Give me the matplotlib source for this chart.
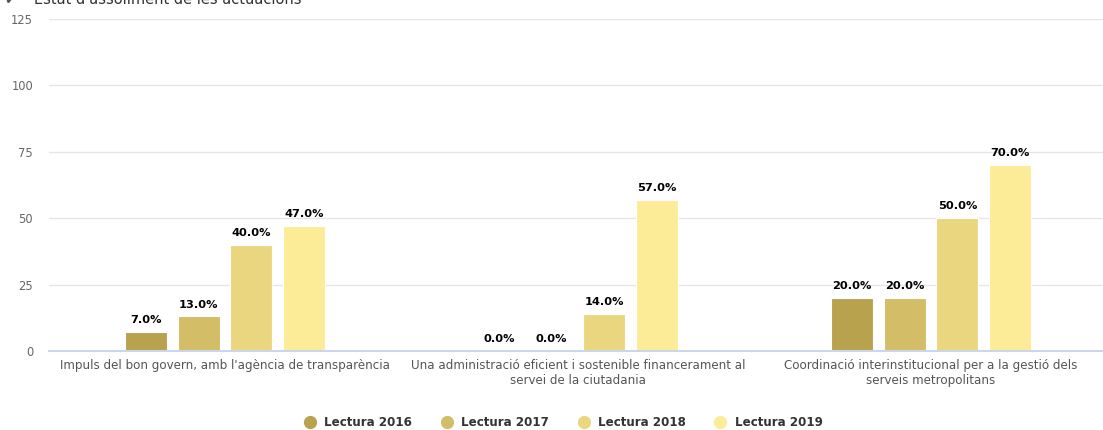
import matplotlib
matplotlib.use("Agg")
import matplotlib.pyplot as plt
from matplotlib.lines import Line2D
import numpy as np

categories = ["Impuls del bon govern, amb l'agència de transparència",
              "Una administració eficient i sostenible financerament al\nservei de la ciutadania",
              "Coordinació interinstitucional per a la gestió dels\nserveis metropolitans"]
series = ["Lectura 2016", "Lectura 2017", "Lectura 2018", "Lectura 2019"]
values = [[7.0, 0.0, 20.0],
          [13.0, 0.0, 20.0],
          [40.0, 14.0, 50.0],
          [47.0, 57.0, 70.0]]
colors = ["#B8A24E", "#D3BD66", "#EBD680", "#FDEC97"]
yticks = [0, 25, 50, 75, 100, 125]

plt.rcParams['font.family'] = ['DejaVu Sans']

fig = plt.figure(figsize=(11.03, 4.30), dpi=100)
# plot area runs a little past the right edge, like the original
ax = fig.add_axes([48.5/1103, 1-351/430, 1059/1103, 332/430])

x = np.arange(len(categories))
width = 0.119
step = 0.149
for i, (name, vals) in enumerate(zip(series, values)):
    pos = x + (i - 1.5) * step
    ax.bar(pos, vals, width=width, color=colors[i], edgecolor='white', linewidth=0.8, zorder=3)
    for px, v in zip(pos, vals):
        ax.annotate(f"{v:.1f}%", (px, v), xytext=(0, 5), textcoords='offset points',
                    ha='center', va='bottom', fontsize=8.2, fontweight='bold', color='black')

ax.set_xlim(-0.5, 2.5)
ax.set_ylim(0, 125)
ax.set_yticks(yticks)
ax.set_xticks(x)
ax.set_xticklabels(categories, fontsize=8.6, color='#555555', linespacing=1.2)
ax.tick_params(axis='y', length=0, labelsize=8.3, labelcolor='#666666', pad=11)
ax.tick_params(axis='x', length=0, pad=6)
ax.grid(axis='y', color='#e6e6e6', linewidth=1, zorder=0)
for s in ['top', 'right', 'left']:
    ax.spines[s].set_visible(False)
ax.spines['bottom'].set_color('#ccd6eb')
ax.spines['bottom'].set_linewidth(1.5)
ax.spines['bottom'].set_zorder(4)

handles = [Line2D([], [], marker='o', linestyle='none', markersize=8.5,
                  markerfacecolor=c, markeredgecolor=c) for c in colors]
leg = fig.legend(handles, series, loc='center', bbox_to_anchor=(0.508, 1-423/430),
                 ncol=4, frameon=False, handletextpad=0.2, columnspacing=1.9,
                 prop={'weight': 'bold', 'size': 8.6})
for t in leg.get_texts():
    t.set_color('#333333')

# title cut off at the top edge in the original
fig.text(34/1103, 1-4/430, "Estat d'assoliment de les actuacions", fontsize=10.5,
         color='#333333', va='baseline', ha='left')
fig.text(4/1103, 1-4/430, "✔", fontsize=10, color='#555555', va='baseline', ha='left')

fig.savefig("out.png", dpi=100)
